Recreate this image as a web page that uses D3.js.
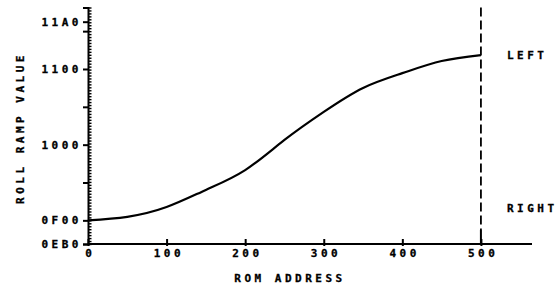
<!DOCTYPE html>
<meta charset="utf-8">
<style>
body { margin: 0; background: #fff; }
text {
  font: bold 11px "DejaVu Sans Mono", monospace;
  letter-spacing: 3.5px;
  fill: #000;
  stroke: #000;
  stroke-width: 0.3px;
}
</style>
<body>
<script src="https://cdnjs.cloudflare.com/ajax/libs/d3/7.8.5/d3.min.js"></script>
<script>

// rom address vs roll ramp value (hex)
var address = [0, 50, 100, 150, 200, 250, 300, 350, 400, 450, 500];
var rampValue = [0x0F00, 0x0F0C, 0x0F2D, 0x0F67, 0x0FAA, 0x1010, 0x106F, 0x10C0, 0x10F2, 0x111B, 0x112F];

var xTicks = [0, 100, 200, 300, 400, 500];
var yLabelTicks = [0x0EB0, 0x0F00, 0x1000, 0x1100, 0x11A0];
var yMidTicks = [0x0F80, 0x1080, 0x1180];
var sideLabels = [{text: "LEFT", value: 0x112F}, {text: "RIGHT", value: 0x0F2A}];

var width = 556,
    height = 290;

var x = d3.scaleLinear().domain([0, 565]).range([88, 532]);
var y = d3.scaleLinear().domain([0x0EB0, 0x11D0]).range([244, 7.5]);

var hex = function(d) { return d.toString(16).toUpperCase().padStart(4, "0"); };

var svg = d3.select("body").append("svg")
    .attr("width", width)
    .attr("height", height);

function ink(g, w) {
  g.selectAll("path, line").attr("stroke", "#000").attr("stroke-width", w);
}

// y axis with labels
svg.append("g")
    .attr("transform", "translate(" + x(0) + ",0)")
    .call(d3.axisLeft(y).tickValues(yLabelTicks).tickFormat(hex).tickSize(5).tickPadding(1))
    .call(ink, 2);

// medium ticks
svg.append("g")
    .attr("transform", "translate(" + x(0) + ",0)")
    .call(d3.axisLeft(y).tickValues(yMidTicks).tickFormat("").tickSize(5))
    .call(function(g) { g.select(".domain").remove(); })
    .call(ink, 2);

// minor comb on the inside
svg.append("g")
    .attr("transform", "translate(" + x(0) + ",0)")
    .call(d3.axisRight(y).tickValues(d3.range(0x0EB0, 0x11D1, 10)).tickFormat("").tickSize(3.5))
    .call(function(g) { g.select(".domain").remove(); })
    .call(ink, 1.4);

// x axis
svg.append("g")
    .attr("transform", "translate(0," + y(0x0EB0) + ")")
    .call(d3.axisBottom(x).tickValues(xTicks).tickSize(0).tickPadding(5))
    .call(ink, 2)
    .call(function(g) {
      g.select(".domain").attr("d", "M" + x(0) + ",0H" + x(565));
      g.selectAll(".tick line").attr("y1", -5).attr("y2", 2);
      g.selectAll(".tick text").attr("dx", "0.16em");
    });

svg.selectAll("text")
    .attr("font-size", null)
    .attr("font-family", null);

// dashed marker at address 500
svg.append("line")
    .attr("x1", x(500)).attr("x2", x(500))
    .attr("y1", y(0x11D0)).attr("y2", y(0x0EB0) - 14)
    .attr("stroke", "#000")
    .attr("stroke-width", 1.8)
    .attr("stroke-dasharray", "9,4");
svg.append("line")
    .attr("x1", x(500)).attr("x2", x(500))
    .attr("y1", y(0x0EB0) - 14).attr("y2", y(0x0EB0))
    .attr("stroke", "#000")
    .attr("stroke-width", 2);

// curve
var line = d3.line()
    .x(function(d, i) { return x(address[i]); })
    .y(function(d) { return y(d); })
    .curve(d3.curveNatural);

svg.append("path")
    .datum(rampValue)
    .attr("fill", "none")
    .attr("stroke", "#000")
    .attr("stroke-width", 2.2)
    .attr("d", line);

svg.selectAll(".side")
    .data(sideLabels)
  .enter().append("text")
    .attr("class", "side")
    .attr("x", 507)
    .attr("y", function(d) { return y(d.value); })
    .attr("dy", "0.35em")
    .text(function(d) { return d.text; });

svg.append("text")
    .attr("x", 290)
    .attr("y", 278)
    .attr("dy", "0.35em")
    .attr("text-anchor", "middle")
    .text("ROM ADDRESS");

svg.append("text")
    .attr("transform", "translate(20,128) rotate(-90)")
    .attr("dy", "0.35em")
    .attr("text-anchor", "middle")
    .text("ROLL RAMP VALUE");

</script>
